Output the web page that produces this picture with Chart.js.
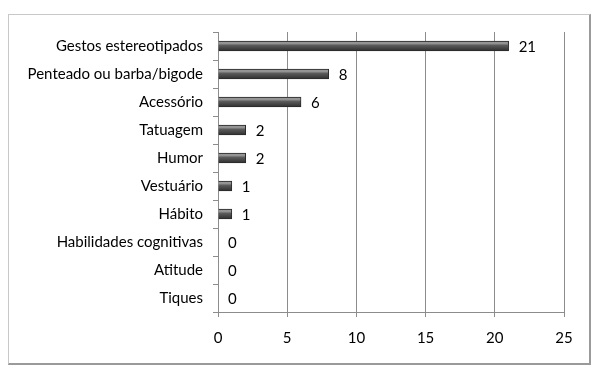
<!DOCTYPE html>
<html>
<head>
<meta charset="utf-8">
<script src="https://cdn.jsdelivr.net/npm/chart.js@4.4.1/dist/chart.umd.min.js"></script>
<style>
  html, body { margin: 0; padding: 0; background: #fff; }
  #frame {
    position: absolute; left: 8px; top: 14px; width: 580px; height: 348px;
    border: 1px solid #c8c8c8; border-right: 2px solid #9a9a9a; border-bottom: 2px solid #9a9a9a;
  }
  #chart { position: absolute; left: 0; top: 0; }
</style>
</head>
<body>
<div id="frame"></div>
<canvas id="chart" width="599" height="373"></canvas>
<script>
const categories = ['Gestos estereotipados', 'Penteado ou barba/bigode', 'Acessório', 'Tatuagem', 'Humor',
  'Vestuário', 'Hábito', 'Habilidades cognitivas', 'Atitude', 'Tiques'];
const counts = [21, 8, 6, 2, 2, 1, 1, 0, 0, 0];
const xTicks = [0, 5, 10, 15, 20, 25];

const FONT = 'Lato, "Open Sans", sans-serif';

// cylinder-like shading across the bar thickness
function barFill(context) {
  const chart = context.chart;
  const y = chart.scales.y;
  if (!chart.chartArea || !y) return '#555';
  const cy = y.getPixelForValue(context.dataIndex);
  const g = chart.ctx.createLinearGradient(0, cy - 5, 0, cy + 5);
  g.addColorStop(0, '#777');
  g.addColorStop(0.2, '#a0a0a0');
  g.addColorStop(0.45, '#5a5a5a');
  g.addColorStop(0.8, '#3e3e3e');
  g.addColorStop(1, '#2e2e2e');
  return g;
}

const valueLabels = {
  id: 'valueLabels',
  afterDatasetsDraw(chart) {
    const ctx = chart.ctx;
    const meta = chart.getDatasetMeta(0);
    ctx.save();
    ctx.font = '15px ' + FONT;
    ctx.fillStyle = '#000';
    ctx.textBaseline = 'middle';
    meta.data.forEach((bar, i) => {
      ctx.fillText(String(counts[i]), bar.x + 10, bar.y + 1);
    });
    ctx.restore();
  }
};

new Chart(document.getElementById('chart'), {
  type: 'bar',
  data: {
    labels: categories,
    datasets: [{
      data: counts,
      backgroundColor: barFill,
      borderColor: '#2a2a2a',
      borderWidth: 1,
      barThickness: 10
    }]
  },
  options: {
    indexAxis: 'y',
    responsive: false,
    animation: false,
    devicePixelRatio: 1,
    layout: { padding: { top: 32, right: 35, left: 0, bottom: 0 } },
    plugins: { legend: { display: false }, tooltip: { enabled: false } },
    scales: {
      x: {
        min: 0, max: 25,
        afterBuildTicks: (scale) => { scale.ticks = xTicks.map(v => ({ value: v })); },
        grid: { color: '#8c8c8c', lineWidth: 1, tickLength: 5 },
        border: { color: '#8c8c8c' },
        ticks: { color: '#000', font: { family: FONT, size: 15 }, padding: 12 },
        afterFit: (scale) => { scale.height = 373 - 312; }
      },
      y: {
        grid: { drawOnChartArea: false, color: '#8c8c8c', tickLength: 5 },
        border: { color: '#8c8c8c' },
        ticks: { color: '#000', font: { family: FONT, size: 15 }, padding: 10 },
        afterFit: (scale) => { scale.width = 218; }
      }
    }
  },
  plugins: [valueLabels]
});
</script>
</body>
</html>
